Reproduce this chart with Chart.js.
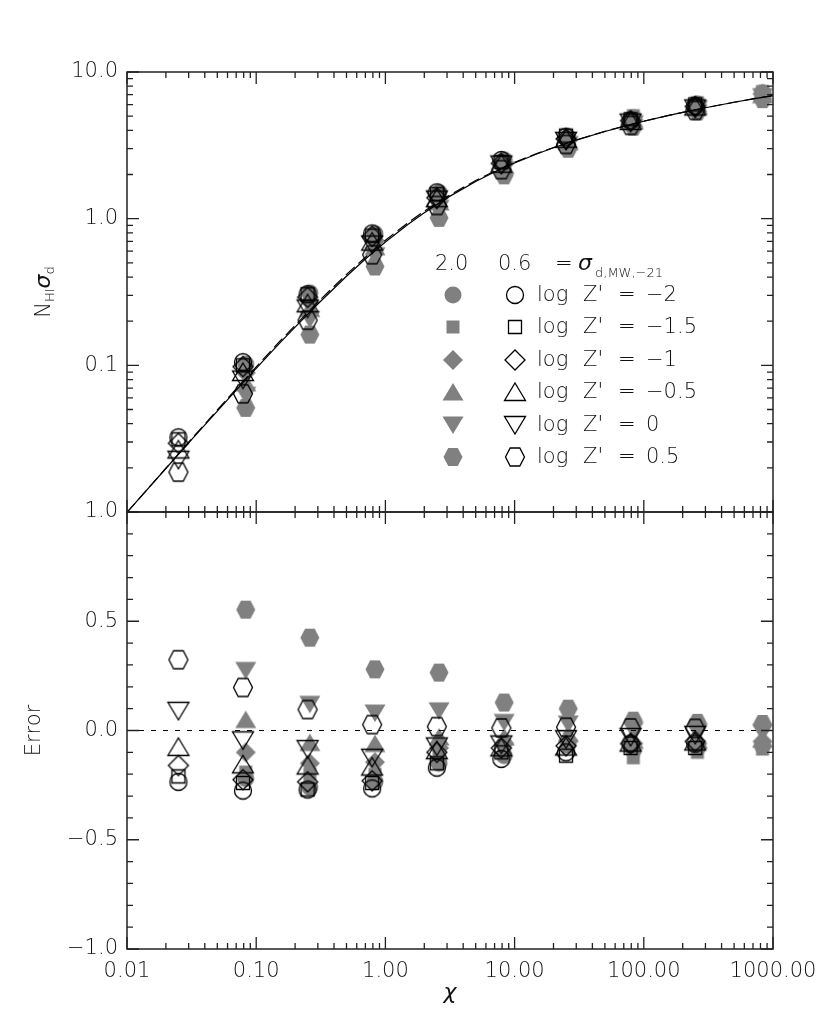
<!DOCTYPE html>
<html>
<head>
<meta charset="utf-8">
<script src="https://cdn.jsdelivr.net/npm/chart.js@4.4.1/dist/chart.umd.min.js"></script>
<style>
  html, body { margin: 0; padding: 0; background: #fff; }
  #wrap { position: relative; width: 830px; height: 1022px; }
  #wrap canvas { position: absolute; left: 0; top: 0; }
</style>
</head>
<body>
<div id="wrap">
  <canvas id="errChart" width="830" height="1022"></canvas>
  <canvas id="nsChart" width="830" height="1022"></canvas>
</div>
<script>
// chi positions of the two runs (open: sigma 0.6, filled: sigma 2.0)
const chiOpen = [0.025, 0.079, 0.25, 0.79, 2.5, 7.9, 25, 79, 250];
const chiFilled = [0.083, 0.26, 0.83, 2.6, 8.3, 26, 83, 260, 830];

// metallicity labels, same order as the series below
const zLabels = ['\u22122', '\u22121.5', '\u22121', '\u22120.5', '0', '0.5'];

// N_HI sigma_d, open symbols
const openZm2 = [0.0323, 0.105, 0.305, 0.793, 1.51, 2.51, 3.62, 4.66, 5.88];
const openZm15 = [0.0313, 0.100, 0.305, 0.767, 1.47, 2.43, 3.68, 4.76, 6.01];
const openZm1 = [0.0294, 0.098, 0.291, 0.757, 1.39, 2.38, 3.50, 4.66, 5.82];
const openZm05 = [0.0267, 0.090, 0.265, 0.698, 1.38, 2.37, 3.51, 4.64, 5.82];
const openZ0 = [0.0227, 0.080, 0.244, 0.666, 1.35, 2.34, 3.39, 4.52, 5.64];
const openZp05 = [0.0187, 0.064, 0.203, 0.568, 1.23, 2.16, 3.21, 4.33, 5.47];

// N_HI sigma_d, filled symbols
const fillZm2 = [0.102, 0.312, 0.790, 1.51, 2.52, 3.51, 4.87, 6.05, 7.23];
const fillZm15 = [0.098, 0.289, 0.755, 1.46, 2.45, 3.56, 5.04, 6.18, 7.35];
const fillZm1 = [0.089, 0.272, 0.706, 1.39, 2.37, 3.45, 4.71, 5.92, 7.08];
const fillZm05 = [0.076, 0.244, 0.643, 1.30, 2.30, 3.35, 4.64, 5.83, 7.00];
const fillZ0 = [0.0625, 0.206, 0.559, 1.175, 2.15, 3.20, 4.43, 5.61, 6.79];
const fillZp05 = [0.0513, 0.162, 0.472, 1.013, 1.975, 3.00, 4.24, 5.38, 6.53];

// Error, open symbols
const errOpenZm2 = [-0.235, -0.275, -0.27, -0.265, -0.17, -0.13, -0.10, -0.06, -0.06];
const errOpenZm15 = [-0.21, -0.24, -0.27, -0.24, -0.15, -0.10, -0.115, -0.08, -0.08];
const errOpenZm1 = [-0.16, -0.225, -0.235, -0.23, -0.10, -0.08, -0.07, -0.06, -0.05];
const errOpenZm05 = [-0.075, -0.155, -0.16, -0.165, -0.09, -0.077, -0.073, -0.055, -0.05];
const errOpenZ0 = [0.09, -0.045, -0.085, -0.125, -0.073, -0.064, -0.04, -0.03, -0.02];
const errOpenZp05 = [0.324, 0.197, 0.096, 0.027, 0.018, 0.012, 0.015, 0.012, 0.01];

// Error, filled symbols
const errFillZm2 = [-0.22, -0.26, -0.235, -0.15, -0.115, -0.06, -0.09, -0.08, -0.07];
const errFillZm15 = [-0.19, -0.20, -0.20, -0.12, -0.09, -0.075, -0.125, -0.10, -0.085];
const errFillZm1 = [-0.10, -0.15, -0.145, -0.08, -0.06, -0.045, -0.06, -0.06, -0.05];
const errFillZm05 = [0.05, -0.055, -0.06, -0.03, -0.03, -0.015, -0.045, -0.045, -0.04];
const errFillZ0 = [0.275, 0.12, 0.08, 0.09, 0.037, 0.03, 0.0, -0.008, -0.01];
const errFillZp05 = [0.553, 0.425, 0.28, 0.265, 0.128, 0.10, 0.045, 0.035, 0.03];

// model curves
const chiModel = [0.01, 0.02, 0.03, 0.05, 0.07, 0.1, 0.15, 0.2, 0.3, 0.5, 0.7, 1, 1.5, 2, 3, 5, 7, 10, 15, 20, 30, 50, 70, 100, 150, 200, 300, 500, 700, 1000];
const nsModel = [0.00995, 0.0198, 0.0296, 0.0488, 0.0677, 0.0953, 0.140, 0.182, 0.262, 0.405, 0.531, 0.693, 0.916, 1.099, 1.386, 1.792, 2.079, 2.398, 2.773, 3.045, 3.434, 3.932, 4.263, 4.615, 5.017, 5.303, 5.707, 6.217, 6.553, 6.909];
const nsModelDash = [0.00995, 0.0199, 0.0299, 0.0496, 0.069, 0.0975, 0.144, 0.187, 0.270, 0.417, 0.546, 0.712, 0.940, 1.125, 1.415, 1.820, 2.105, 2.420, 2.790, 3.058, 3.442, 3.937, 4.266, 4.617, 5.018, 5.304, 5.707, 6.217, 6.553, 6.909];
const chiZero = [0.01, 1000];
const errZero = [0, 0];

// axis ticks
const xTicks = [0.01, 0.1, 1, 10, 100, 1000];
const xTickLabels = ['0.01', '0.10', '1.00', '10.00', '100.00', '1000.00'];
const nsTicks = [0.01, 0.1, 1, 10];
const nsTickLabels = ['', '0.1', '1.0', '10.0'];
const errTicks = [-1, -0.5, 0, 0.5, 1];
const errTickLabels = ['\u22121.0', '\u22120.5', '0.0', '0.5', '1.0'];

const GRAY = '#808080';
const INK = '#111';
const FONT = '"DejaVu Sans", "Liberation Sans", sans-serif';
const TXT = '200 21px ' + FONT;
const SUB = '200 13px ' + FONT;
const SIG = 'italic 200 22px "DejaVu Sans"';

Chart.defaults.font.family = FONT;
Chart.defaults.font.size = 21;
Chart.defaults.font.weight = 200;
Chart.defaults.color = INK;

function pts(xs, ys) {
    return xs.map((x, i) => ({ x: x, y: ys[i] }));
}

function logMinor(lo, hi) {
    const out = [];
    for (let e = lo; e < hi; e++) {
        for (let m = 2; m <= 9; m++) out.push(m * Math.pow(10, e));
    }
    return out;
}

// symbol bitmaps (IDL-style plot symbols)
function makeMarker(shape, filled) {
    const c = document.createElement('canvas');
    c.width = 26;
    c.height = 26;
    const g = c.getContext('2d');
    const cx = 13, cy = 13;
    g.beginPath();
    if (shape === 'circle') {
        g.arc(cx, cy, 8.5, 0, 2 * Math.PI);
    } else if (shape === 'square') {
        g.rect(cx - 6.5, cy - 6.5, 13, 13);
    } else if (shape === 'diamond') {
        g.moveTo(cx, cy - 10); g.lineTo(cx + 10, cy); g.lineTo(cx, cy + 10); g.lineTo(cx - 10, cy);
    } else if (shape === 'up') {
        g.moveTo(cx, cy - 9); g.lineTo(cx + 10.5, cy + 8.5); g.lineTo(cx - 10.5, cy + 8.5);
    } else if (shape === 'down') {
        g.moveTo(cx - 10.5, cy - 8.5); g.lineTo(cx + 10.5, cy - 8.5); g.lineTo(cx, cy + 9);
    } else if (shape === 'hex') {
        g.moveTo(cx - 9.5, cy); g.lineTo(cx - 4.8, cy - 9); g.lineTo(cx + 4.8, cy - 9);
        g.lineTo(cx + 9.5, cy); g.lineTo(cx + 4.8, cy + 9); g.lineTo(cx - 4.8, cy + 9);
    }
    g.closePath();
    if (filled) {
        g.fillStyle = GRAY;
        g.fill();
    } else {
        g.strokeStyle = '#000';
        g.lineWidth = 1.3;
        g.stroke();
    }
    return c;
}

const shapes = ['circle', 'square', 'diamond', 'up', 'down', 'hex'];
const openMarks = shapes.map(s => makeMarker(s, false));
const fillMarks = shapes.map(s => makeMarker(s, true));

function markerSets(xOpen, openSeries, xFill, fillSeries) {
    const sets = [];
    openSeries.forEach((ys, i) => sets.push({
        label: 'open ' + zLabels[i],
        data: pts(xOpen, ys),
        pointStyle: openMarks[i],
        pointRadius: 9
    }));
    fillSeries.forEach((ys, i) => sets.push({
        label: 'filled ' + zLabels[i],
        data: pts(xFill, ys),
        pointStyle: fillMarks[i],
        pointRadius: 9
    }));
    return sets;
}

// box with inward ticks on all four sides
const frameTicks = {
    id: 'frameTicks',
    afterDraw(chart, args, opts) {
        const { ctx, chartArea: a } = chart;
        const xs = chart.scales.x, ys = chart.scales.y;
        ctx.save();
        ctx.strokeStyle = '#222';
        ctx.lineWidth = 1.3;
        ctx.beginPath();
        opts.xMajor.concat(opts.xMinor).forEach((v, i) => {
            const len = i < opts.xMajor.length ? 12 : 6;
            const px = xs.getPixelForValue(v);
            ctx.moveTo(px, a.top); ctx.lineTo(px, a.top + len);
            ctx.moveTo(px, a.bottom); ctx.lineTo(px, a.bottom - len);
        });
        opts.yMajor.concat(opts.yMinor).forEach((v, i) => {
            const len = i < opts.yMajor.length ? 12 : 6;
            const py = ys.getPixelForValue(v);
            ctx.moveTo(a.left, py); ctx.lineTo(a.left + len, py);
            ctx.moveTo(a.right, py); ctx.lineTo(a.right - len, py);
        });
        ctx.stroke();
        ctx.lineWidth = 1.5;
        ctx.strokeRect(a.left, a.top, a.right - a.left, a.bottom - a.top);
        ctx.restore();
    }
};

// legend block and the N_HI sigma_d axis label
const nsExtras = {
    id: 'nsExtras',
    afterDraw(chart) {
        const ctx = chart.ctx;
        ctx.save();
        ctx.fillStyle = INK;
        ctx.textBaseline = 'alphabetic';
        ctx.textAlign = 'left';
        ctx.font = TXT;
        ctx.fillText('2.0', 435, 270);
        ctx.fillText('0.6', 498, 270);
        ctx.fillText('=', 555, 270);
        ctx.font = SIG;
        ctx.fillText('\u03c3', 578, 270);
        ctx.font = SUB;
        ctx.fillText('d,MW,\u221221', 595, 277);

        const rowY = [295, 327, 360, 392, 425, 457];
        rowY.forEach((y, i) => {
            ctx.drawImage(fillMarks[i], 453 - 13, y - 13);
            ctx.drawImage(openMarks[i], 515 - 13, y - 13);
            ctx.font = TXT;
            ctx.fillText('log', 537, y + 6);
            ctx.fillText("Z'", 583, y + 6);
            ctx.fillText('=', 618, y + 6);
            ctx.fillText(zLabels[i], 646, y + 6);
        });

        // rotated y title: N_HI sigma_d
        const parts = [['N', TXT, 0], ['HI', SUB, 4], ['\u03c3', SIG, 0], ['d', SUB, 4]];
        let total = 0;
        parts.forEach(p => { ctx.font = p[1]; total += ctx.measureText(p[0]).width; });
        ctx.translate(50, 292 + total / 2);
        ctx.rotate(-Math.PI / 2);
        let cx = 0;
        parts.forEach(p => {
            ctx.font = p[1];
            ctx.fillText(p[0], cx, p[2]);
            cx += ctx.measureText(p[0]).width;
        });
        ctx.restore();
    }
};

function lineSet(label, xs, ys, dash) {
    return {
        label: label,
        data: pts(xs, ys),
        showLine: true,
        borderColor: '#000',
        borderWidth: 1.2,
        borderDash: dash,
        pointRadius: 0,
        fill: false
    };
}

// top panel: N_HI sigma_d vs chi
new Chart(document.getElementById('nsChart'), {
    type: 'scatter',
    data: {
        datasets: [
            lineSet('model', chiModel, nsModel, []),
            lineSet('model dashed', chiModel, nsModelDash, [12, 5])
        ].concat(markerSets(
            chiOpen, [openZm2, openZm15, openZm1, openZm05, openZ0, openZp05],
            chiFilled, [fillZm2, fillZm15, fillZm1, fillZm05, fillZ0, fillZp05]))
    },
    options: {
        responsive: false,
        animation: false,
        devicePixelRatio: 1,
        layout: { padding: { left: 0, top: 72, right: 57, bottom: 510 } },
        plugins: {
            legend: { display: false },
            tooltip: { enabled: false },
            frameTicks: {
                xMajor: xTicks, xMinor: logMinor(-2, 3),
                yMajor: nsTicks, yMinor: logMinor(-2, 1)
            }
        },
        scales: {
            x: {
                type: 'logarithmic',
                min: 0.01,
                max: 1000,
                display: false
            },
            y: {
                type: 'logarithmic',
                min: 0.01,
                max: 10,
                afterFit: s => { s.width = 127; },
                afterBuildTicks: s => { s.ticks = nsTicks.map(v => ({ value: v })); },
                grid: { display: false, drawTicks: false },
                border: { display: false },
                ticks: {
                    autoSkip: false,
                    padding: 9,
                    callback: (v) => nsTickLabels[nsTicks.indexOf(v)]
                }
            }
        }
    },
    plugins: [frameTicks, nsExtras]
});

// bottom panel: error vs chi
new Chart(document.getElementById('errChart'), {
    type: 'scatter',
    data: {
        datasets: [
            lineSet('zero', chiZero, errZero, [5, 7])
        ].concat(markerSets(
            chiOpen, [errOpenZm2, errOpenZm15, errOpenZm1, errOpenZm05, errOpenZ0, errOpenZp05],
            chiFilled, [errFillZm2, errFillZm15, errFillZm1, errFillZm05, errFillZ0, errFillZp05]))
    },
    options: {
        responsive: false,
        animation: false,
        devicePixelRatio: 1,
        layout: { padding: { left: 0, top: 512, right: 57, bottom: 0 } },
        plugins: {
            legend: { display: false },
            tooltip: { enabled: false },
            frameTicks: {
                xMajor: xTicks, xMinor: logMinor(-2, 3),
                yMajor: errTicks,
                yMinor: [-0.9, -0.8, -0.7, -0.6, -0.4, -0.3, -0.2, -0.1, 0.1, 0.2, 0.3, 0.4, 0.6, 0.7, 0.8, 0.9]
            }
        },
        scales: {
            x: {
                type: 'logarithmic',
                min: 0.01,
                max: 1000,
                afterFit: s => { s.height = 73; },
                afterBuildTicks: s => { s.ticks = xTicks.map(v => ({ value: v })); },
                grid: { display: false, drawTicks: false },
                border: { display: false },
                ticks: {
                    autoSkip: false,
                    maxRotation: 0,
                    padding: 10,
                    callback: (v) => xTickLabels[xTicks.indexOf(v)]
                },
                title: {
                    display: true,
                    text: '\u03c7',
                    color: INK,
                    font: { family: '"DejaVu Sans"', style: 'italic', weight: 200, size: 22 },
                    padding: { top: 0, bottom: 16 }
                }
            },
            y: {
                type: 'linear',
                min: -1,
                max: 1,
                afterFit: s => { s.width = 127; },
                afterBuildTicks: s => { s.ticks = errTicks.map(v => ({ value: v })); },
                grid: { display: false, drawTicks: false },
                border: { display: false },
                ticks: {
                    autoSkip: false,
                    padding: 9,
                    callback: (v) => errTickLabels[errTicks.indexOf(v)]
                },
                title: {
                    display: true,
                    text: 'Error',
                    color: INK,
                    font: { size: 21 },
                    padding: { top: 22, bottom: 0 }
                }
            }
        }
    },
    plugins: [frameTicks]
});
</script>
</body>
</html>
